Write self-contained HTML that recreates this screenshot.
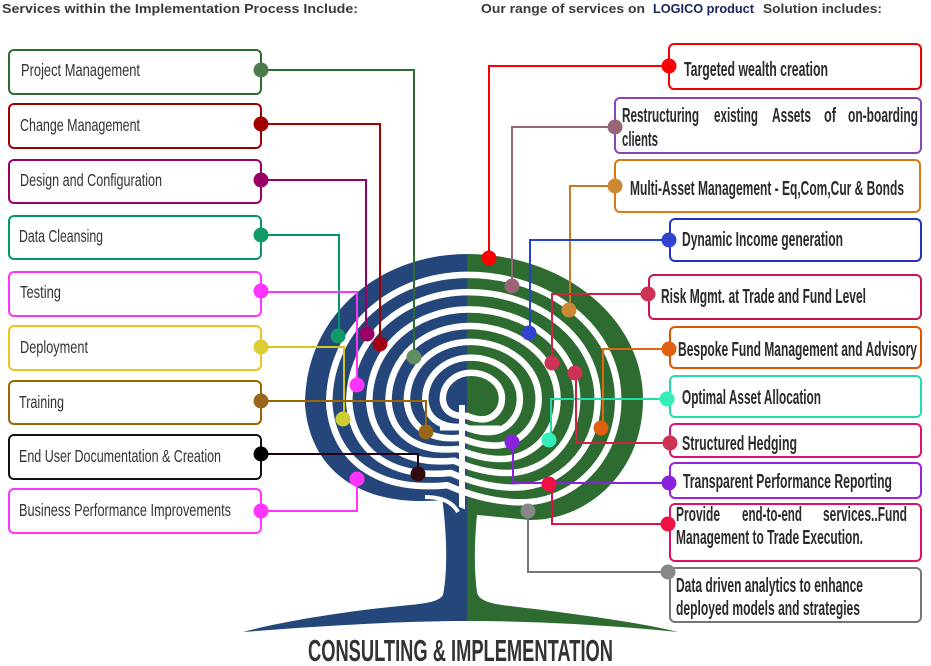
<!DOCTYPE html>
<html><head><meta charset="utf-8"><style>
html,body{margin:0;padding:0;background:#fff;}
svg{display:block;}
.lt{font-family:"Liberation Sans",sans-serif;font-size:17.5px;fill:#333;}
.rt{font-family:"Liberation Sans",sans-serif;font-size:20px;font-weight:bold;fill:#2a2a2a;}
.hd{font-family:"Liberation Sans",sans-serif;font-size:13px;font-weight:bold;fill:#3a3a3a;}
</style></head><body>
<svg width="931" height="666" viewBox="0 0 931 666" xmlns="http://www.w3.org/2000/svg">
<defs>
<path id="bp" d="M467,254 C560,254 643,315 643,400 C643,470 590,520 530,520 L478,515 L443,500 C360,508 310,470 305,405 C305,315 380,254 467,254 Z"/>
<path id="rp" d="M467,254 C560,254 643,315 643,400 C643,470 590,520 530,520 C500,520 470,512 443,500 C360,508 310,470 305,405 C305,315 380,254 467,254 Z"/>
<clipPath id="brainclip"><use href="#bp"/></clipPath>
<clipPath id="treeclip">
<use href="#bp"/>
<path d="M441,490 C447,530 448,570 443,595 C438,603 420,604 400,606 C340,612 280,622 243,632 C320,626 400,621 467,621 C540,621 620,626 678,632 C640,622 560,612 510,606 C490,604 478,600 477,592 C474,570 474,540 478,505 Z"/>
</clipPath>
</defs>
<rect width="931" height="666" fill="#fff"/>

<!-- tree fill -->
<g clip-path="url(#treeclip)">
<rect x="0" y="240" width="467" height="420" fill="#24467a"/>
<rect x="467" y="240" width="464" height="420" fill="#2d6b30"/>
</g>
<!-- maze rings -->
<g clip-path="url(#brainclip)" fill="none" stroke="#fff">
<use href="#rp" transform="translate(472,398) scale(0.855) translate(-472,-398)" stroke-width="7.6"/>
<use href="#rp" transform="translate(472,398) scale(0.735) translate(-472,-398)" stroke-width="8.8"/>
<use href="#rp" transform="translate(472,398) scale(0.615) translate(-472,-398)" stroke-width="10.6"/>
<use href="#rp" transform="translate(472,398) scale(0.50) translate(-472,-398)" stroke-width="13"/>
<use href="#rp" transform="translate(472,398) scale(0.39) translate(-472,-398)" stroke-width="16.7"/>
<use href="#rp" transform="translate(472,398) scale(0.28) translate(-472,-398)" stroke-width="23.2"/>
<use href="#rp" transform="translate(472,398) scale(0.175) translate(-472,-398)" stroke-width="37"/>
<line x1="462" y1="405" x2="462" y2="510" stroke-width="6"/>
<line x1="440" y1="428" x2="500" y2="428" stroke-width="5"/>
</g>
<path d="M425,497 C440,497 452,501 458,512" fill="none" stroke="#fff" stroke-width="4"/>

<!-- left connectors -->
<g fill="none" stroke-width="2">
<polyline points="261,70 414,70 414,357" stroke="#2f6b35"/>
<polyline points="261,124 380,124 380,344" stroke="#a00000"/>
<polyline points="261,180 366,180 366,334" stroke="#990066"/>
<polyline points="261,235 339,235 339,336" stroke="#009966"/>
<polyline points="261,292 357,292 357,385" stroke="#ff33ff"/>
<polyline points="261,347 344,347 344,419" stroke="#d8c41e"/>
<polyline points="261,401 426,401 426,432" stroke="#996600"/>
<polyline points="261,454 418,454 418,474" stroke="#220011"/>
<polyline points="261,511 357,511 357,479" stroke="#ff33ff"/>
</g>
<!-- right connectors -->
<g fill="none" stroke-width="2">
<polyline points="669,66 489,66 489,258" stroke="#ff0000"/>
<polyline points="615,127 512,127 512,286" stroke="#996677"/>
<polyline points="615,186 570,186 570,310" stroke="#cc7722"/>
<polyline points="669,240 530,240 530,333" stroke="#2244cc"/>
<polyline points="648,294 552,294 552,363" stroke="#cc2244"/>
<polyline points="669,349 603,349 603,428" stroke="#dd6611"/>
<polyline points="667,399 551,399 551,440" stroke="#22ddaa"/>
<polyline points="670,443 576,443 576,373" stroke="#cc2244"/>
<polyline points="669,483 513,483 513,442" stroke="#8822dd"/>
<polyline points="668,524 552,524 552,484" stroke="#dd1144"/>
<polyline points="668,572 528,572 528,511" stroke="#777777"/>
</g>

<!-- left boxes -->
<g fill="#fff" stroke-width="2">
<rect x="9" y="50" width="252" height="44" rx="5" stroke="#2f6b35"/>
<rect x="9" y="104" width="252" height="44" rx="5" stroke="#a00000"/>
<rect x="9" y="160" width="252" height="43" rx="5" stroke="#990066"/>
<rect x="9" y="216" width="252" height="43" rx="5" stroke="#009966"/>
<rect x="9" y="272" width="252" height="44" rx="5" stroke="#ff33ff"/>
<rect x="9" y="326" width="252" height="44" rx="5" stroke="#e6c81e"/>
<rect x="9" y="381" width="252" height="43" rx="5" stroke="#996600"/>
<rect x="9" y="435" width="252" height="44" rx="5" stroke="#111111"/>
<rect x="9" y="489" width="252" height="44" rx="5" stroke="#ff33ff"/>
</g>
<!-- right boxes -->
<g fill="#fff" stroke-width="2">
<rect x="669" y="44" width="252" height="45" rx="5" stroke="#ee0000"/>
<rect x="615" y="98" width="306" height="55" rx="5" stroke="#8844bb"/>
<rect x="615" y="160" width="305" height="52" rx="5" stroke="#dd7711"/>
<rect x="670" y="219" width="251" height="42" rx="5" stroke="#2233bb"/>
<rect x="649" y="275" width="272" height="44" rx="5" stroke="#cc1155"/>
<rect x="670" y="327" width="251" height="41" rx="5" stroke="#dd5500"/>
<rect x="670" y="376" width="251" height="41" rx="5" stroke="#22ddaa"/>
<rect x="670" y="424" width="251" height="33" rx="5" stroke="#dd1177"/>
<rect x="670" y="463" width="251" height="35" rx="5" stroke="#9922dd"/>
<rect x="670" y="504" width="251" height="57" rx="5" stroke="#dd1166"/>
<rect x="670" y="568" width="251" height="54" rx="5" stroke="#777777"/>
</g>

<!-- left dots -->
<g>
<circle cx="261" cy="70" r="7.5" fill="#4b7b4b"/><circle cx="414" cy="357" r="7.5" fill="#5f8f60"/>
<circle cx="261" cy="124" r="7.5" fill="#a00000"/><circle cx="380" cy="344" r="7.5" fill="#a00010"/>
<circle cx="261" cy="180" r="7.5" fill="#990066"/><circle cx="367" cy="334" r="7.5" fill="#990066"/>
<circle cx="261" cy="235" r="7.5" fill="#119966"/><circle cx="338" cy="336" r="7.5" fill="#119966"/>
<circle cx="261" cy="291" r="7.5" fill="#ff33ff"/><circle cx="357" cy="385" r="7.5" fill="#ff33ff"/>
<circle cx="261" cy="347" r="7.5" fill="#ddcc33"/><circle cx="343" cy="419" r="7.5" fill="#cccc33"/>
<circle cx="261" cy="401" r="7.5" fill="#99661a"/><circle cx="426" cy="432" r="7.5" fill="#99661a"/>
<circle cx="261" cy="454" r="7.5" fill="#000000"/><circle cx="418" cy="474" r="7.5" fill="#330a11"/>
<circle cx="261" cy="511" r="7.5" fill="#ff33ff"/><circle cx="357" cy="479" r="7.5" fill="#ff33ff"/>
</g>
<!-- right dots -->
<g>
<circle cx="669" cy="66" r="7.5" fill="#ff0000"/><circle cx="489" cy="258" r="7.5" fill="#ff0000"/>
<circle cx="615" cy="127" r="7.5" fill="#996677"/><circle cx="512" cy="286" r="7.5" fill="#996677"/>
<circle cx="615" cy="186" r="7.5" fill="#cc8833"/><circle cx="569" cy="310" r="7.5" fill="#cc8833"/>
<circle cx="669" cy="240" r="7.5" fill="#3344cc"/><circle cx="529" cy="333" r="7.5" fill="#3344cc"/>
<circle cx="648" cy="294" r="7.5" fill="#cc3355"/><circle cx="552" cy="363" r="7.5" fill="#cc3355"/>
<circle cx="669" cy="349" r="7.5" fill="#e06010"/><circle cx="601" cy="428" r="7.5" fill="#e06010"/>
<circle cx="667" cy="399" r="7.5" fill="#33eebb"/><circle cx="549" cy="440" r="7.5" fill="#33eebb"/>
<circle cx="670" cy="443" r="7.5" fill="#cc3355"/><circle cx="575" cy="373" r="7.5" fill="#cc3355"/>
<circle cx="669" cy="483" r="7.5" fill="#8822dd"/><circle cx="512" cy="442" r="7.5" fill="#8822dd"/>
<circle cx="668" cy="524" r="7.5" fill="#ee1144"/><circle cx="549" cy="484" r="7.5" fill="#ee1144"/>
<circle cx="668" cy="572" r="7.5" fill="#888888"/><circle cx="528" cy="511" r="7.5" fill="#888888"/>
</g>

<!-- headings -->
<text class="hd" x="2" y="13" textLength="356" lengthAdjust="spacingAndGlyphs">Services within the Implementation Process Include:</text>
<text class="hd" x="481" y="13" textLength="164" lengthAdjust="spacingAndGlyphs">Our range of services on</text>
<text class="hd" x="653" y="13" textLength="101" lengthAdjust="spacingAndGlyphs" style="fill:#1a2560">LOGICO product</text>
<text class="hd" x="763" y="13" textLength="119" lengthAdjust="spacingAndGlyphs">Solution includes:</text>

<!-- left texts -->
<text class="lt" x="21" y="76" textLength="119" lengthAdjust="spacingAndGlyphs">Project Management</text>
<text class="lt" x="20" y="131" textLength="120" lengthAdjust="spacingAndGlyphs">Change Management</text>
<text class="lt" x="20" y="186" textLength="142" lengthAdjust="spacingAndGlyphs">Design and Configuration</text>
<text class="lt" x="19" y="242" textLength="84" lengthAdjust="spacingAndGlyphs">Data Cleansing</text>
<text class="lt" x="20" y="298" textLength="41" lengthAdjust="spacingAndGlyphs">Testing</text>
<text class="lt" x="20" y="353" textLength="68" lengthAdjust="spacingAndGlyphs">Deployment</text>
<text class="lt" x="19" y="408" textLength="45" lengthAdjust="spacingAndGlyphs">Training</text>
<text class="lt" x="19" y="462" textLength="202" lengthAdjust="spacingAndGlyphs">End User Documentation &amp; Creation</text>
<text class="lt" x="19" y="516" textLength="212" lengthAdjust="spacingAndGlyphs">Business Performance Improvements</text>

<!-- right texts -->
<text class="rt" x="684" y="76" textLength="144" lengthAdjust="spacingAndGlyphs">Targeted wealth creation</text>
<text class="rt" x="622" y="122" textLength="77" lengthAdjust="spacingAndGlyphs">Restructuring</text>
<text class="rt" x="714" y="122" textLength="44" lengthAdjust="spacingAndGlyphs">existing</text>
<text class="rt" x="772" y="122" textLength="39" lengthAdjust="spacingAndGlyphs">Assets</text>
<text class="rt" x="824" y="122" textLength="12" lengthAdjust="spacingAndGlyphs">of</text>
<text class="rt" x="848" y="122" textLength="70" lengthAdjust="spacingAndGlyphs">on-boarding</text>
<text class="rt" x="622" y="146" textLength="36" lengthAdjust="spacingAndGlyphs">clients</text>
<text class="rt" x="630" y="195" textLength="274" lengthAdjust="spacingAndGlyphs">Multi-Asset Management - Eq,Com,Cur &amp; Bonds</text>
<text class="rt" x="682" y="246" textLength="161" lengthAdjust="spacingAndGlyphs">Dynamic Income generation</text>
<text class="rt" x="661" y="303" textLength="205" lengthAdjust="spacingAndGlyphs">Risk Mgmt. at Trade and Fund Level</text>
<text class="rt" x="678" y="356" textLength="239" lengthAdjust="spacingAndGlyphs">Bespoke Fund Management and Advisory</text>
<text class="rt" x="682" y="404" textLength="139" lengthAdjust="spacingAndGlyphs">Optimal Asset Allocation</text>
<text class="rt" x="682" y="450" textLength="115" lengthAdjust="spacingAndGlyphs">Structured Hedging</text>
<text class="rt" x="683" y="488" textLength="209" lengthAdjust="spacingAndGlyphs">Transparent Performance Reporting</text>
<text class="rt" x="676" y="521" textLength="44" lengthAdjust="spacingAndGlyphs">Provide</text>
<text class="rt" x="742" y="521" textLength="60" lengthAdjust="spacingAndGlyphs">end-to-end</text>
<text class="rt" x="823" y="521" textLength="84" lengthAdjust="spacingAndGlyphs">services..Fund</text>
<text class="rt" x="676" y="544" textLength="187" lengthAdjust="spacingAndGlyphs">Management to Trade Execution.</text>
<text class="rt" x="676" y="592" textLength="187" lengthAdjust="spacingAndGlyphs">Data driven analytics to enhance</text>
<text class="rt" x="676" y="615" textLength="184" lengthAdjust="spacingAndGlyphs">deployed models and strategies</text>

<!-- bottom title -->
<text x="308" y="661" textLength="305" lengthAdjust="spacingAndGlyphs" style="font-family:'Liberation Sans',sans-serif;font-size:31px;font-weight:bold;fill:#333;">CONSULTING &amp; IMPLEMENTATION</text>
</svg>
</body></html>
